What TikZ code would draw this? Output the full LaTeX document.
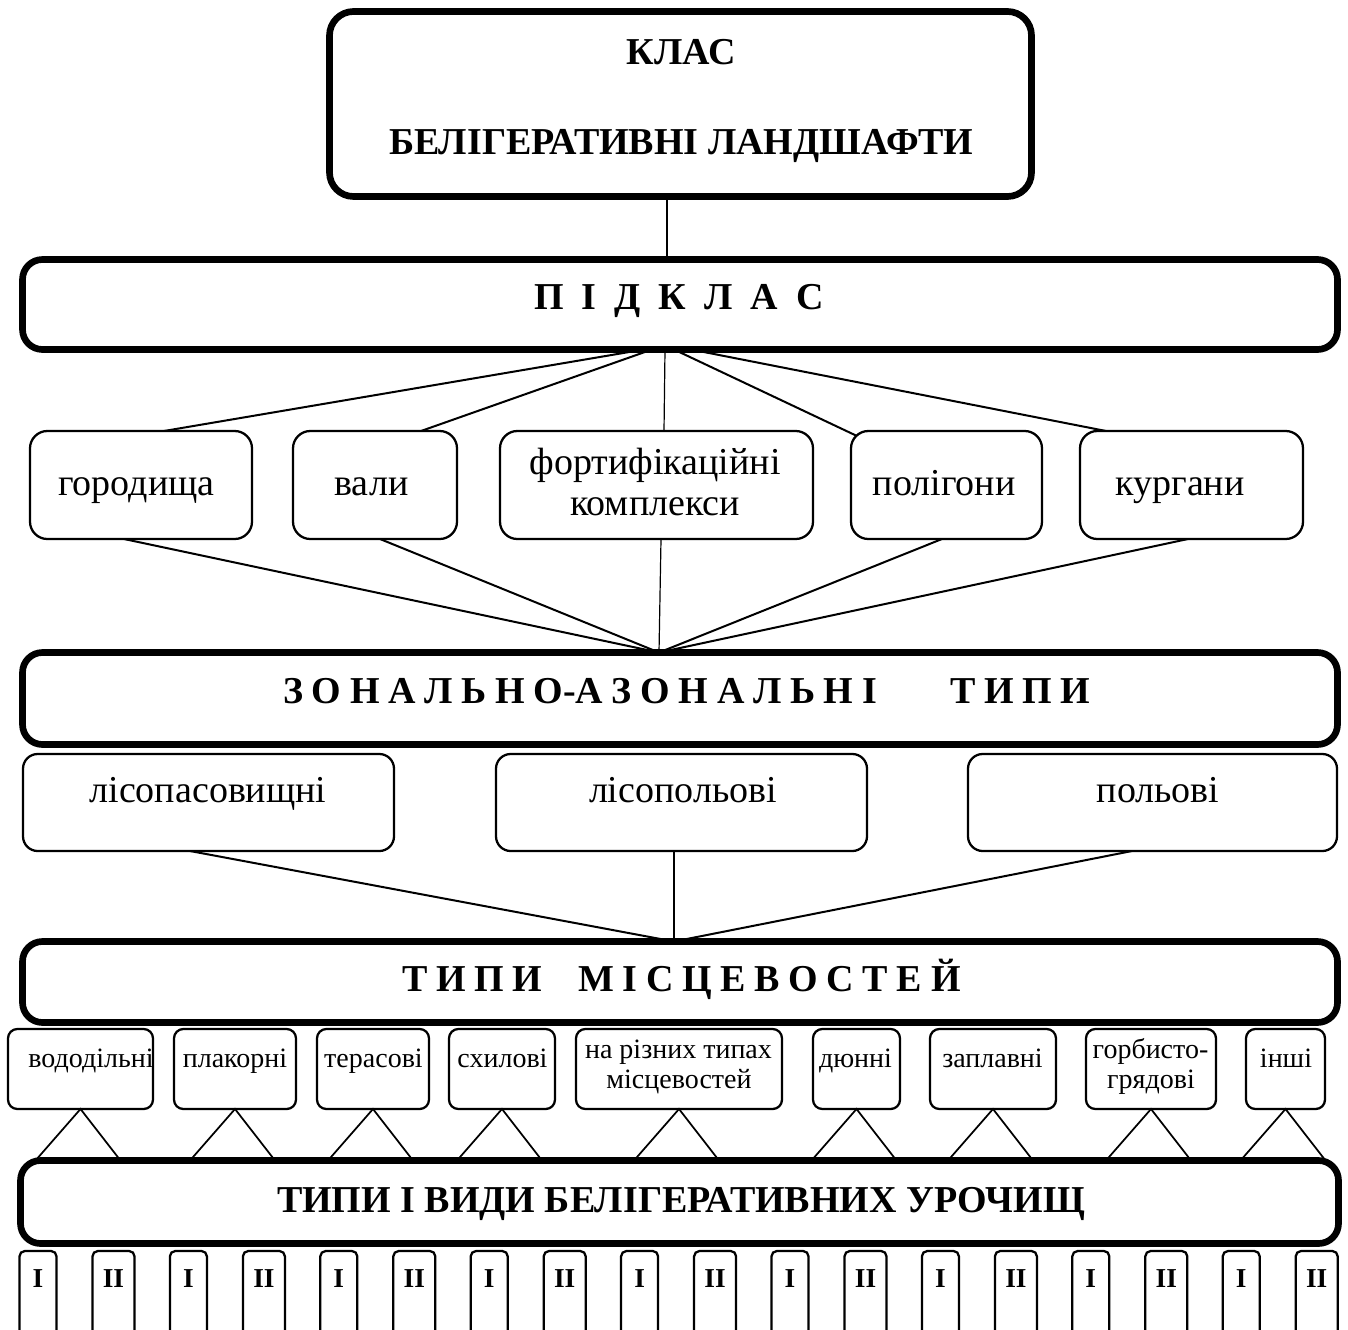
\documentclass[tikz,border=0pt]{standalone}
\usepackage{fontspec}
\setmainfont{Liberation Serif}
\usetikzlibrary{calc}
\newcommand\gapA{\hspace{13.5pt}}
\newcommand\gapB{\hspace{6.5pt}}
\begin{document}
\begin{tikzpicture}[x=0.75pt,y=-0.75pt,
  sz/.style 2 args={minimum width=#1*0.75pt, minimum height=#2*0.75pt},
  bigbox/.style={draw, line width=5pt, rounded corners=15pt, inner sep=0pt, outer sep=0pt, fill=white},
  midbox/.style={draw, line width=1.7pt, rounded corners=13pt, inner sep=0pt, outer sep=0pt},
  lowbox/.style={draw, line width=1.7pt, rounded corners=11pt, inner sep=0pt, outer sep=0pt},
  smallbox/.style={draw, line width=1.7pt, rounded corners=7pt, inner sep=0pt, outer sep=0pt},
  numbox/.style={draw, line width=1.7pt, rounded corners=4pt, inner sep=0pt, outer sep=0pt},
  bigt/.style={font=\fontsize{28.5}{34}\selectfont, anchor=base, inner sep=0pt},
  bigbt/.style={font=\fontsize{28.5}{34}\selectfont\bfseries, anchor=base, inner sep=0pt},
  smallt/.style={font=\fontsize{21}{25}\selectfont, anchor=base, inner sep=0pt},
  numt/.style={font=\fontsize{20.5}{24}\selectfont\bfseries, anchor=base, inner sep=0pt},
  conn/.style={line width=1.5pt},
  thinconn/.style={line width=0.9pt},
  tri/.style={line width=1.3pt}]
\useasboundingbox (0,0) rectangle (1348,1330);

% ---- top box
\node[bigbox, rounded corners=18pt, sz={702}{185}] (klas) at (680.5,104) {};
\node[bigbt] (klas-t1) at (681,65) {КЛАС};
\node[bigbt] (klas-t2) at (681,155) {БЕЛІГЕРАТИВНІ ЛАНДШАФТИ};

% ---- subclass
\node[bigbox, sz={1315}{90}] (sub) at (680,304.5) {};
\node[bigbt] (sub-t) at (679,309) {П\gapA І\gapA Д\gapA К\gapA Л\gapA А\gapA С};
\draw[thinconn] ($(klas.south)+(-13.5,0)$) -- ($(sub.north)+(-13,0)$);

% ---- row 1
\node[midbox, sz={222}{108}] (gor) at (141,485) {};
\node[midbox, sz={164}{108}] (val) at (375,485) {};
\node[midbox, sz={313}{108}] (fort) at (656.5,485) {};
\node[midbox, sz={191}{108}] (pol) at (946.5,485) {};
\node[midbox, sz={223}{108}] (kur) at (1191.5,485) {};
\node[bigt] (gor-t) at (136.5,495) {городища};
\node[bigt] (val-t) at (371.5,495) {вали};
\node[bigt] (fort-t1) at (655,474) {фортифікаційні};
\node[bigt] (fort-t2) at (655,515) {комплекси};
\node[bigt] (pol-t) at (944,495) {полігони};
\node[bigt] (kur-t) at (1180,495) {кургани};

\draw[conn] ($(sub.south)+(-36,0)$) -- ($(gor.north)+(23,0)$);
\draw[conn] ($(sub.south)+(-28,0)$) -- ($(val.north)+(46,0)$);
\draw[thinconn] ($(sub.south)+(-15,0)$) -- ($(fort.north)+(7.5,0)$);
\draw[conn] ($(sub.south)+(-6,0)$) -- ($(pol.north west)+(6,5)$);
\draw[conn] ($(sub.south)+(11,0)$) -- ($(kur.north)+(-85.5,0)$);

% ---- zonal types
\node[bigbox, sz={1315}{92}] (zon) at (680,698.5) {};
\node[bigbt, anchor=base west] (zon-t) at (283,703) {З\gapB О\gapB Н\gapB А\gapB Л\gapB Ь\gapB Н\gapB О-А\gapB З\gapB О\gapB Н\gapB А\gapB Л\gapB Ь\gapB Н\gapB І\hspace{55pt}Т\gapB И\gapB П\gapB И};
\coordinate (hub2) at ($(zon.north)+(-21,0)$);
\draw[conn] ($(gor.south)+(-17,0)$) -- (hub2);
\draw[conn] ($(val.south)+(5,0)$) -- (hub2);
\draw[thinconn] ($(fort.south)+(4.5,0)$) -- (hub2);
\draw[conn] ($(pol.south)+(-4.5,0)$) -- (hub2);
\draw[conn] ($(kur.south)+(-3.5,0)$) -- (hub2);

% ---- row 2
\node[lowbox, sz={371}{97}] (lp) at (208.5,802.5) {};
\node[lowbox, sz={371}{97}] (lpol) at (681.5,802.5) {};
\node[lowbox, sz={369}{97}] (pol2) at (1152.5,802.5) {};
\node[bigt] (lp-t) at (208,802) {лісопасовищні};
\node[bigt] (lpol-t) at (683,802) {лісопольові};
\node[bigt] (pol2-t) at (1158,802) {польові};

% ---- types of localities
\node[bigbox, sz={1315}{81}] (tm) at (680,982) {};
\node[bigbt, anchor=base west] (tm-t) at (402,991) {Т\gapB И\gapB П\gapB И\hspace{27pt}М\gapB І\gapB С\gapB Ц\gapB Е\gapB В\gapB О\gapB С\gapB Т\gapB Е\gapB Й};
\coordinate (hub3) at ($(tm.north)+(-6,0)$);
\draw[conn] ($(lp.south)+(-18.5,0)$) -- (hub3);
\draw[thinconn] ($(lpol.south)+(-7.5,0)$) -- (hub3);
\draw[conn] ($(pol2.south)+(-20.5,0)$) -- (hub3);

% ---- row 3
\node[smallbox, sz={145}{80}] (vod) at (80.5,1069) {};
\node[smallbox, sz={122}{80}] (plak) at (235,1069) {};
\node[smallbox, sz={112}{80}] (ter) at (373,1069) {};
\node[smallbox, sz={106}{80}] (sch) at (502,1069) {};
\node[smallbox, sz={206}{80}] (nar) at (679,1069) {};
\node[smallbox, sz={87}{80}] (dun) at (856.5,1069) {};
\node[smallbox, sz={126}{80}] (zap) at (993,1069) {};
\node[smallbox, sz={130}{80}] (gorb) at (1151,1069) {};
\node[smallbox, sz={79}{80}] (insh) at (1285.5,1069) {};
\node[smallt] (vod-t) at (91,1067) {вододільні};
\node[smallt] (plak-t) at (235,1067) {плакорні};
\node[smallt] (ter-t) at (373.5,1067) {терасові};
\node[smallt] (sch-t) at (502.5,1067) {схилові};
\node[smallt] (nar-t1) at (678.5,1058) {на різних типах};
\node[smallt] (nar-t2) at (679,1088) {місцевостей};
\node[smallt] (dun-t) at (855.5,1067) {дюнні};
\node[smallt] (zap-t) at (992.5,1067) {заплавні};
\node[smallt] (gorb-t1) at (1150.5,1058) {горбисто-};
\node[smallt] (gorb-t2) at (1151,1088) {грядові};
\node[smallt] (insh-t) at (1286,1067) {інші};

% ---- types and kinds of tracts
\node[bigbox, sz={1318}{83}] (tiv) at (679.5,1202) {};
\node[bigbt] (tiv-t) at (681,1212) {ТИПИ І ВИДИ БЕЛІГЕРАТИВНИХ УРОЧИЩ};

\foreach \b in {vod,plak,ter,sch,nar,dun,zap,gorb,insh}{
  \draw[tri] ($(\b.south |- tiv.north)+(-45,0)$) -- (\b.south) -- ($(\b.south |- tiv.north)+(40,0)$);
}

% ---- I / II boxes
\foreach \k in {0,...,8}{
  \node[numbox, sz={37}{150}] (one-\k) at (38+150.4*\k,1326) {};
  \node[numt] (one-\k-t) at (38+150.4*\k,1287) {I};
  \node[numbox, sz={42}{150}] (two-\k) at (113.5+150.4*\k,1326) {};
  \node[numt] (two-\k-t) at (113.5+150.4*\k,1287) {II};
}
\end{tikzpicture}
\end{document}
